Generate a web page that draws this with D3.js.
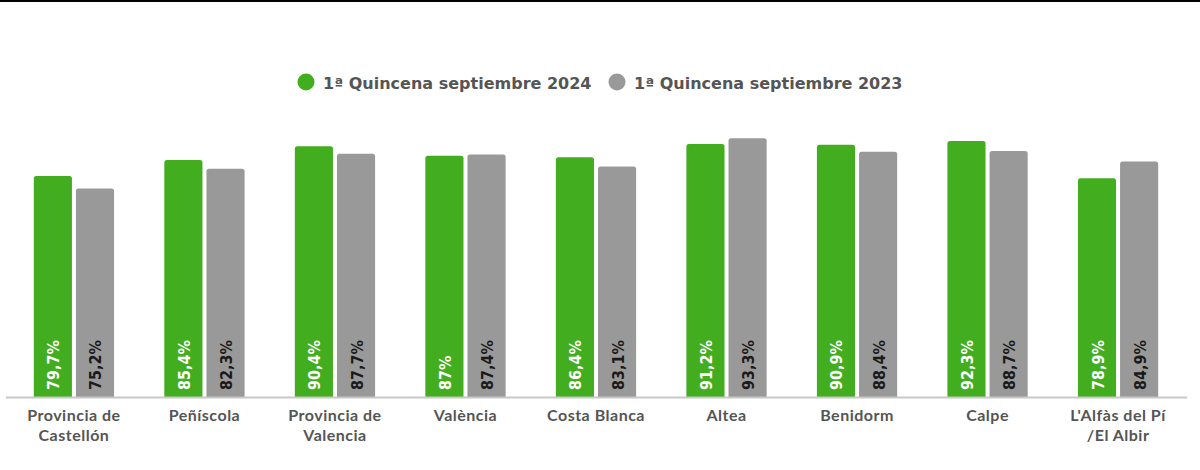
<!DOCTYPE html>
<html><head><meta charset="utf-8">
<script src="https://cdn.jsdelivr.net/npm/d3@7"></script>
<style>body{margin:0;background:#fff}svg{display:block}</style>
</head><body>
<svg id="c" width="1200" height="470"></svg>
<script>
const categories = ["Provincia de|Castellón","Peñíscola","Provincia de|Valencia","València","Costa Blanca","Altea","Benidorm","Calpe","L'Alfàs del Pí|/El Albir"];
const seriesNames = ["1ª Quincena septiembre 2024","1ª Quincena septiembre 2023"];
const values2024 = [79.7,85.4,90.4,87,86.4,91.2,90.9,92.3,78.9];
const values2023 = [75.2,82.3,87.7,87.4,83.1,93.3,88.4,88.7,84.9];
const valueLabels2024 = ["79,7%","85,4%","90,4%","87%","86,4%","91,2%","90,9%","92,3%","78,9%"];
const valueLabels2023 = ["75,2%","82,3%","87,7%","87,4%","83,1%","93,3%","88,4%","88,7%","84,9%"];
const colors = ["#42ae1f","#999999"];
const labelColors = ["#ffffff","#1a1a1a"];

const svg = d3.select("#c");
svg.append("rect").attr("x",0).attr("y",0).attr("width",1200).attr("height",2).attr("fill","#000");

const x0 = d3.scaleBand().domain(categories).range([9,1183]).paddingInner(0.385).paddingOuter(0.19);
const x1 = d3.scaleBand().domain([0,1]).range([0,x0.bandwidth()]).paddingInner(0.095);
const y = d3.scaleLinear().domain([0,100]).range([397.5,119.5]);

const data = categories.map((c,i)=>({c, vals:[values2024[i],values2023[i]], labs:[valueLabels2024[i],valueLabels2023[i]]}));

function topRounded(x,yt,w,h,r){
  return `M${x},${yt+h}V${yt+r}Q${x},${yt} ${x+r},${yt}H${x+w-r}Q${x+w},${yt} ${x+w},${yt+r}V${yt+h}Z`;
}

const g = svg.selectAll("g.grp").data(data).join("g").attr("class","grp")
  .attr("transform",d=>`translate(${x0(d.c)},0)`);
g.selectAll("path").data(d=>d.vals.map((v,k)=>({v,k}))).join("path")
  .attr("d",d=>topRounded(x1(d.k),y(d.v),x1.bandwidth(),y(0)-y(d.v),2.5))
  .attr("fill",d=>colors[d.k]);
g.selectAll("text.vl").data(d=>d.labs.map((l,k)=>({l,k}))).join("text").attr("class","vl")
  .attr("transform",d=>`translate(${x1(d.k)+x1.bandwidth()/2+6.5},${y(0)-7.5}) rotate(-90)`)
  .attr("font-family","'DejaVu Sans Condensed','Liberation Sans Narrow',sans-serif")
  .attr("font-weight","700").attr("font-size",16)
  .attr("fill",d=>labelColors[d.k]).text(d=>d.l);

// axis
const axis = svg.append("g").attr("transform",`translate(0,${y(0)})`)
  .call(d3.axisBottom(x0).tickSize(0).tickSizeOuter(0));
axis.select(".domain").remove();
axis.append("line").attr("x1",6).attr("x2",1187).attr("y1",0).attr("y2",0).attr("stroke","#c8c8c8").attr("stroke-width",2);
axis.selectAll(".tick text").each(function(d){
  const t = d3.select(this);
  t.text(null).attr("y",0).attr("dy",null)
   .attr("font-family","Lato,sans-serif").attr("font-weight","700").attr("font-size",16)
   .attr("letter-spacing","0.5px").attr("fill","#555");
  d.split("|").forEach((s,i)=>t.append("tspan").attr("x",0).attr("y",23.5+i*19.5).text(s));
});

// legend
const leg = svg.append("g");
const legX = [306,617];
seriesNames.forEach((s,i)=>{
  leg.append("circle").attr("cx",legX[i]).attr("cy",82).attr("r",8.5).attr("fill",colors[i]);
  leg.append("text").attr("x",legX[i]+17).attr("y",88.5).attr("font-family","'DejaVu Sans',sans-serif")
    .attr("font-weight","700").attr("font-size",16).attr("fill","#555").text(s);
});
</script>
</body></html>
